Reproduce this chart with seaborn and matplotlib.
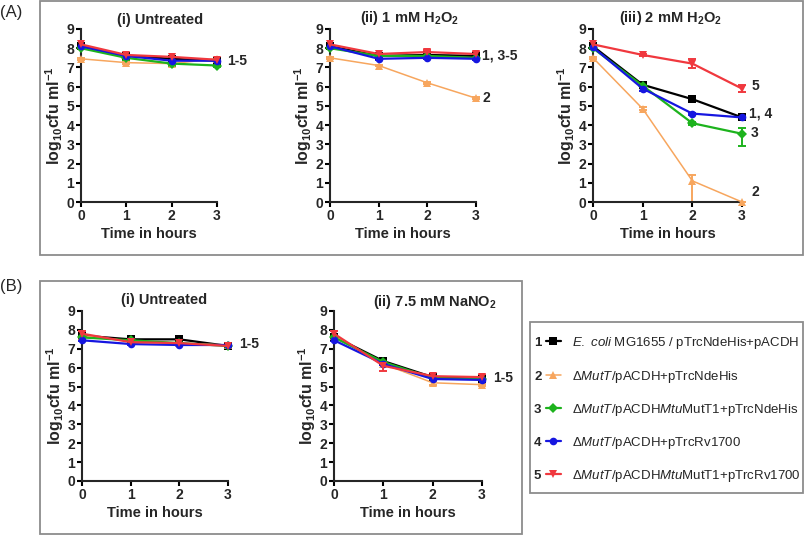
import matplotlib
matplotlib.use('Agg')
import matplotlib.pyplot as plt
import numpy as np
import pandas as pd
import seaborn as sns
from matplotlib.patches import Rectangle

# ---------------- data ----------------
times = [0, 1, 2, 3]
strain_ids = ['1', '2', '3', '4', '5']
strain_labels = [
    r'$\it{E.\ coli}$ MG1655 / pTrcNdeHis+pACDH',
    r'Δ$\it{MutT/}$pACDH+pTrcNdeHis',
    r'Δ$\it{MutT/}$pACDH$\it{Mtu}$MutT1+pTrcNdeHis',
    r'Δ$\it{MutT/}$pACDH+pTrcRv1700',
    r'Δ$\it{MutT/}$pACDH$\it{Mtu}$MutT1+pTrcRv1700',
]
colors = ['#000000', '#F7A65E', '#1DB31D', '#1616E0', '#F0383E']
markers = ['s', '^', 'D', 'o', 'v']

# (A)(i) Untreated
a_untreated = [[8.10, 7.60, 7.45, 7.35],
               [7.45, 7.25, 7.20, 7.45],
               [8.00, 7.50, 7.20, 7.10],
               [8.10, 7.60, 7.35, 7.35],
               [8.20, 7.65, 7.55, 7.40]]
a_untreated_err = [[0.05, 0.05, 0.05, 0.05],
                   [0.05, 0.08, 0.05, 0.05],
                   [0.05, 0.10, 0.12, 0.08],
                   [0.05, 0.05, 0.10, 0.05],
                   [0.08, 0.08, 0.05, 0.05]]
# (A)(ii) 1 mM H2O2
a_h2o2_1mm = [[8.10, 7.60, 7.65, 7.60],
              [7.50, 7.10, 6.20, 5.40],
              [8.00, 7.60, 7.60, 7.50],
              [8.10, 7.45, 7.50, 7.45],
              [8.20, 7.70, 7.80, 7.70]]
a_h2o2_1mm_err = [[0.05, 0.05, 0.05, 0.05],
                  [0.05, 0.05, 0.05, 0.05],
                  [0.05, 0.05, 0.05, 0.05],
                  [0.05, 0.08, 0.08, 0.08],
                  [0.08, 0.05, 0.12, 0.08]]
# (A)(iii) 2 mM H2O2
a_h2o2_2mm = [[8.10, 6.10, 5.35, 4.40],
              [7.50, 4.85, 1.10, 0.00],
              [8.00, 6.05, 4.10, 3.55],
              [8.05, 5.90, 4.60, 4.40],
              [8.20, 7.65, 7.20, 5.90]]
a_h2o2_2mm_err_lo = [[0.05, 0.05, 0.15, 0.05],
                     [0.05, 0.08, 1.10, 0.00],
                     [0.05, 0.05, 0.08, 0.65],
                     [0.05, 0.10, 0.05, 0.05],
                     [0.05, 0.05, 0.25, 0.20]]
a_h2o2_2mm_err_hi = [[0.05, 0.05, 0.15, 0.05],
                     [0.05, 0.08, 0.30, 0.00],
                     [0.05, 0.05, 0.08, 0.30],
                     [0.05, 0.10, 0.05, 0.05],
                     [0.05, 0.05, 0.25, 0.20]]
# (B)(i) Untreated
b_untreated = [[7.70, 7.50, 7.50, 7.15],
               [7.70, 7.40, 7.30, 7.20],
               [7.60, 7.45, 7.30, 7.15],
               [7.45, 7.25, 7.20, 7.20],
               [7.80, 7.35, 7.30, 7.15]]
b_untreated_err = [[0.05, 0.08, 0.08, 0.05],
                   [0.05, 0.05, 0.05, 0.05],
                   [0.05, 0.05, 0.05, 0.05],
                   [0.05, 0.05, 0.05, 0.05],
                   [0.15, 0.12, 0.08, 0.08]]
# (B)(ii) 7.5 mM NaNO2
b_nano2 = [[7.65, 6.35, 5.50, 5.40],
           [7.70, 6.20, 5.20, 5.10],
           [7.60, 6.30, 5.45, 5.40],
           [7.45, 6.20, 5.40, 5.35],
           [7.80, 6.10, 5.55, 5.50]]
b_nano2_err = [[0.05, 0.08, 0.05, 0.05],
               [0.05, 0.05, 0.12, 0.05],
               [0.05, 0.05, 0.05, 0.05],
               [0.05, 0.05, 0.05, 0.05],
               [0.15, 0.30, 0.10, 0.10]]

# ---------------- style ----------------
sns.set_style('ticks')
plt.rcParams['font.family'] = ['Liberation Sans', 'DejaVu Sans']
plt.rcParams['mathtext.fontset'] = 'custom'
plt.rcParams['mathtext.rm'] = 'Liberation Sans'
plt.rcParams['mathtext.it'] = 'Liberation Sans:italic'
plt.rcParams['mathtext.bf'] = 'Liberation Sans:bold'
plt.rcParams['mathtext.sf'] = 'Liberation Sans'
plt.rcParams['mathtext.default'] = 'bf'

W, H = 805, 535
fig = plt.figure(figsize=(W / 100, H / 100), dpi=100)


def fx(px):
    return px / W


def fy(py):
    return 1 - py / H


# panel boxes
box_color = '#8c8c8c'
for (x0, y0, x1, y1) in [(40, 1, 803, 255), (40, 281, 522, 534), (530, 322, 803, 493)]:
    fig.patches.append(Rectangle((fx(x0), fy(y1)), fx(x1 - x0), (y1 - y0) / H,
                                 transform=fig.transFigure, fill=False,
                                 edgecolor=box_color, linewidth=1.3))

fig.text(fx(0), fy(12), '(A)', fontsize=12, va='center', ha='left')
fig.text(fx(0), fy(286), '(B)', fontsize=12, va='center', ha='left')

palette = dict(zip(strain_ids, colors))
marker_map = dict(zip(strain_ids, markers))


def draw_panel(rect, vals, err_lo, err_hi, title, title_xy, notes):
    x0, y0, x1, y1 = rect
    ax = fig.add_axes([fx(x0), fy(y1), fx(x1 - x0), (y1 - y0) / H])
    df = pd.DataFrame({
        'time': np.tile(times, len(strain_ids)),
        'value': np.concatenate(vals),
        'strain': np.repeat(strain_ids, len(times)),
    })
    sns.lineplot(data=df, x='time', y='value', hue='strain', style='strain',
                 hue_order=strain_ids, style_order=strain_ids,
                 palette=palette, markers=marker_map, dashes=False,
                 errorbar=None, legend=False, ax=ax, linewidth=1.6,
                 markersize=5.5, markeredgewidth=0)
    lines = list(ax.lines[:5])
    for ln in lines:
        ln.set_clip_on(False)
        ln.set_zorder(3)
    lines[1].set_linewidth(1.1)
    for i, s in enumerate(strain_ids):
        cont = ax.errorbar(times, vals[i], yerr=[err_lo[i], err_hi[i]], fmt='none',
                           ecolor=colors[i], elinewidth=1.4, capsize=3, capthick=1.4,
                           zorder=2.5)
        for art in cont.get_children():
            art.set_clip_on(False)
    ax.set_xlim(0, 3)
    ax.set_ylim(0, 9)
    ax.set_xticks([0, 1, 2, 3])
    ax.set_yticks(range(10))
    sns.despine(ax=ax)
    for sp in ['left', 'bottom']:
        ax.spines[sp].set_linewidth(1.5)
    ax.tick_params(width=1.5, length=3.5, labelsize=10, pad=1.5, color='black')
    for lab in ax.get_xticklabels() + ax.get_yticklabels():
        lab.set_fontweight('bold')
    ax.set_xlabel('Time in hours', fontsize=10.5, fontweight='bold', labelpad=3)
    ax.set_ylabel(r'$\mathbf{log_{10}cfu\ ml^{-1}}$', fontsize=11.5, labelpad=1)
    fig.text(fx(title_xy[0]), fy(title_xy[1]), title, fontsize=10.5,
             fontweight='bold', ha='center', va='center')
    for (tx, ty, txt) in notes:
        ax.text(tx, ty, txt, fontsize=10, fontweight='bold', ha='left',
                va='center', clip_on=False)
    return ax, lines


ax1, leg_lines = draw_panel((81, 29, 217, 202), a_untreated, a_untreated_err, a_untreated_err,
                            '(i) Untreated', (160, 20), [(3.22, 7.35, '1-5')])
draw_panel((330, 29, 476, 202), a_h2o2_1mm, a_h2o2_1mm_err, a_h2o2_1mm_err,
           r'(ii) 1 mM H$_{2}$O$_{2}$', (409, 18),
           [(3.12, 7.6, '1, 3-5'), (3.14, 5.4, '2')])
draw_panel((593, 29, 742, 202), a_h2o2_2mm, a_h2o2_2mm_err_lo, a_h2o2_2mm_err_hi,
           r'(iii) 2 mM H$_{2}$O$_{2}$', (671, 18),
           [(3.2, 6.05, '5'), (3.14, 4.6, '1, 4'), (3.18, 3.6, '3'), (3.2, 0.5, '2')])
draw_panel((82, 311, 228, 481), b_untreated, b_untreated_err, b_untreated_err,
           '(i) Untreated', (164, 300), [(3.22, 7.25, '1-5')])
draw_panel((334, 311, 482, 481), b_nano2, b_nano2_err, b_nano2_err,
           r'(ii) 7.5 mM NaNO$_{2}$', (435, 302), [(3.22, 5.45, '1-5')])

# legend (one entry per row, numbers on the left)
row_y = [343, 377, 410, 443, 476]
for i in range(5):
    fig.text(fx(534), fy(row_y[i]), strain_ids[i], fontsize=9.5, fontweight='bold',
             ha='left', va='center')
    fig.legend([leg_lines[i]], [strain_labels[i]], loc='center left',
               bbox_to_anchor=(fx(546), fy(row_y[i])), frameon=False,
               fontsize=9.5, handlelength=1.1, handletextpad=0.85,
               borderpad=0, borderaxespad=0)

fig.savefig('out.png', dpi=100)
